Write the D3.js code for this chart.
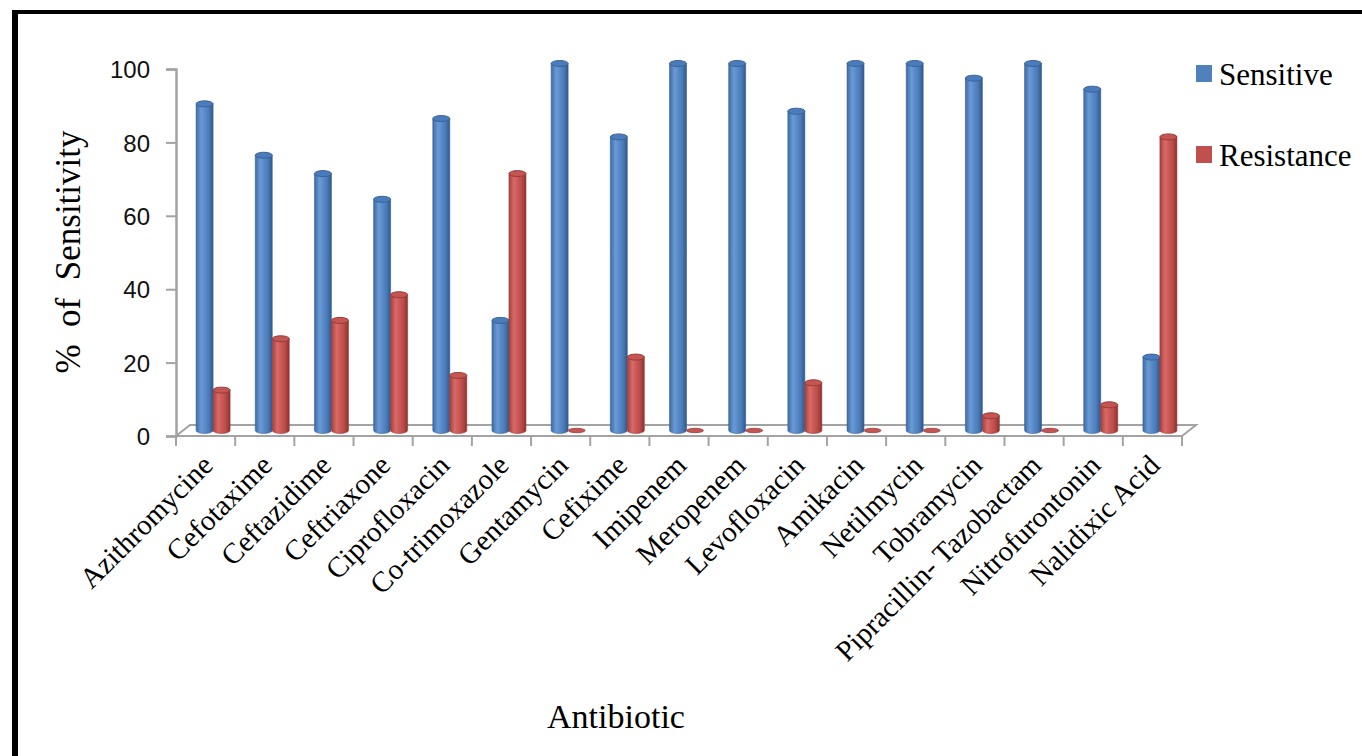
<!DOCTYPE html>
<html>
<head>
<meta charset="utf-8">
<script src="https://cdn.jsdelivr.net/npm/d3@7"></script>
<style>
  html, body { margin: 0; padding: 0; background: #fff; }
  svg { display: block; }
</style>
</head>
<body>
<svg id="chart" width="1362" height="756"></svg>
<script>
const categories = ["Azithromycine", "Cefotaxime", "Ceftazidime", "Ceftriaxone", "Ciprofloxacin",
  "Co-trimoxazole", "Gentamycin", "Cefixime", "Imipenem", "Meropenem", "Levofloxacin",
  "Amikacin", "Netilmycin", "Tobramycin", "Pipracillin- Tazobactam", "Nitrofurontonin", "Nalidixic Acid"];
const sensitive  = [89, 75, 70, 63, 85, 30, 100, 80, 100, 100, 87, 100, 100, 96, 100, 93, 20];
const resistance = [11, 25, 30, 37, 15, 70, 0, 20, 0, 0, 13, 0, 0, 4, 0, 7, 80];
const seriesNames = ["Sensitive", "Resistance"];
const yTicks = [0, 20, 40, 60, 80, 100];
const yTitle = "%\u00a0\u00a0of\u00a0\u00a0Sensitivity";
const xTitle = "Antibiotic";

const svg = d3.select("#chart");
const serif = "'Liberation Serif', 'Times New Roman', serif";
const sans = "'Liberation Sans', Arial, sans-serif";

// border
svg.append("line").attr("x1", 15).attr("x2", 15).attr("y1", 10).attr("y2", 756)
  .attr("stroke", "#000").attr("stroke-width", 6);
svg.append("line").attr("x1", 12).attr("x2", 1362).attr("y1", 12).attr("y2", 12)
  .attr("stroke", "#000").attr("stroke-width", 4);

const x = d3.scaleBand().domain(categories).range([176, 1182]).padding(0);
const y = d3.scaleLinear().domain([0, 100]).range([436, 69]);
const depthX = 14, depthY = -11;
const axisColor = "#a3a3a3";

// gradients
const defs = svg.append("defs");
const palettes = [
  {id: "gBlue", stops: ["#3d6aa3", "#6a9ad6", "#5b8cca", "#4a7bb8", "#2f5889"], cap: "#4a7cbb", rim: "#3a6399"},
  {id: "gRed", stops: ["#a53f3c", "#da6a67", "#cc5b58", "#b94b48", "#8c3230"], cap: "#c35653", rim: "#9a3a37"}
];
palettes.forEach(p => {
  const g = defs.append("linearGradient").attr("id", p.id).attr("x1", "0").attr("x2", "1").attr("y1", "0").attr("y2", "0");
  [0, 0.3, 0.5, 0.75, 1].forEach((o, i) => g.append("stop").attr("offset", o).attr("stop-color", p.stops[i]));
});

// floor
const x0 = x.range()[0], x1 = x.range()[1], yb = y(0);
svg.append("path")
  .attr("d", `M${x0},${yb} L${x1},${yb} L${x1 + depthX},${yb + depthY} L${x0 + depthX},${yb + depthY} Z`)
  .attr("fill", "#fff").attr("stroke", axisColor).attr("stroke-width", 2);

// x tick marks at band edges
const edges = categories.map(c => x(c)).concat([x1]);
svg.append("g").selectAll("line").data(edges).join("line")
  .attr("x1", d => d).attr("x2", d => d).attr("y1", yb).attr("y2", yb + 10)
  .attr("stroke", axisColor).attr("stroke-width", 2);

// y axis
const yAxis = svg.append("g").attr("transform", `translate(${x0},0)`)
  .call(d3.axisLeft(y).tickValues(yTicks).tickSize(10).tickPadding(16).tickFormat(d3.format("d")));
yAxis.select(".domain").attr("stroke", axisColor).attr("stroke-width", 2.5);
yAxis.selectAll(".tick line").attr("stroke", axisColor).attr("stroke-width", 2);
yAxis.selectAll(".tick text").attr("font-family", sans).attr("font-size", 24).attr("fill", "#111")
  .attr("dy", "0.36em");

// bars (cylinders)
const bw = 17, ry = 3;
const offX = depthX / 2 + 0.5, offY = depthY / 2;
const bars = svg.append("g").attr("transform", `translate(${offX},${offY})`);
const series = [sensitive, resistance];
categories.forEach((c, i) => {
  const bc = x(c) + x.bandwidth() / 2;
  series.forEach((vals, s) => {
    const v = vals[i];
    const p = palettes[s];
    const left = bc - bw + s * bw, right = left + bw, cx = (left + right) / 2;
    const top = y(v), bot = y(0);
    if (v > 0) {
      bars.append("path")
        .attr("d", `M${left},${top} L${left},${bot} A${bw / 2},${ry} 0 0 0 ${right},${bot} L${right},${top} Z`)
        .attr("fill", `url(#${p.id})`).attr("stroke", p.rim).attr("stroke-width", 0.6);
      bars.append("ellipse").attr("cx", cx).attr("cy", top).attr("rx", bw / 2).attr("ry", ry)
        .attr("fill", p.cap).attr("stroke", p.rim).attr("stroke-width", 1);
    } else {
      bars.append("ellipse").attr("cx", cx).attr("cy", bot).attr("rx", bw / 2).attr("ry", ry - 0.8)
        .attr("fill", p.cap).attr("stroke", p.rim).attr("stroke-width", 0.8);
    }
  });
});

// x labels
const xAxis = svg.append("g").attr("transform", `translate(0,${yb})`)
  .call(d3.axisBottom(x).tickSize(0).tickPadding(0));
xAxis.select(".domain").remove();
xAxis.selectAll(".tick text")
  .attr("font-family", serif).attr("font-size", 29).attr("fill", "#000")
  .attr("text-anchor", "end").attr("dy", 0).attr("y", 0)
  .attr("transform", "translate(9,31) rotate(-45)")
  .style("white-space", "pre");

// axis titles
svg.append("text").attr("x", 616).attr("y", 728).attr("text-anchor", "middle")
  .attr("font-family", serif).attr("font-size", 34).attr("fill", "#000").text(xTitle);
svg.append("text").attr("transform", "translate(80,252) rotate(-90)").attr("text-anchor", "middle")
  .attr("font-family", serif).attr("font-size", 35).attr("fill", "#000").text(yTitle);

// legend
const legend = svg.append("g");
seriesNames.forEach((n, i) => {
  const gy = 65 + i * 81;
  legend.append("rect").attr("x", 1196).attr("y", gy).attr("width", 16).attr("height", 17)
    .attr("fill", i === 0 ? "#4f81bd" : "#c0504d");
  legend.append("text").attr("x", 1219).attr("y", gy + 20).attr("font-family", serif)
    .attr("font-size", 31).attr("fill", "#000").text(n);
});
</script>
</body>
</html>
